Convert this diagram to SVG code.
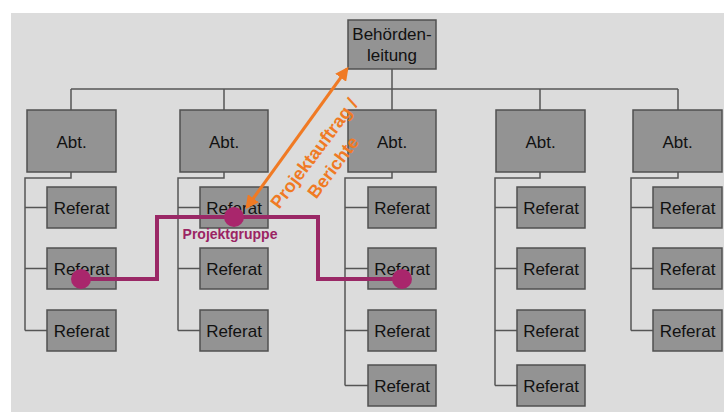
<svg xmlns="http://www.w3.org/2000/svg" width="724" height="412" viewBox="0 0 724 412">
<style>
.box{fill:#939393;stroke:#505050;stroke-width:1.5}
.lbl{font-family:"Liberation Sans",Arial,sans-serif;font-size:17px;fill:#111;text-anchor:middle}
.ln{fill:none;stroke:#555;stroke-width:1.5}
.pg{fill:none;stroke:#9a2866;stroke-width:4}
.dot{fill:#a9266c}
.or{font-family:"Liberation Sans",Arial,sans-serif;font-size:18px;font-weight:bold;fill:#f07a24;text-anchor:middle}
</style>
<defs>
<marker id="ah" viewBox="0 0 10 10" refX="8" refY="5" markerWidth="4.5" markerHeight="4.5" orient="auto-start-reverse">
<path d="M0,0 L10,5 L0,10 z" fill="#f07a24"/>
</marker>
</defs>
<rect x="0" y="0" width="724" height="412" fill="#ffffff"/>
<rect x="11" y="13" width="713" height="399" fill="#dcdcdc"/>

<g id="connectors">
<path class="ln" d="M392,69 V110 M71,89 H678 M71,89 V110 M224,89 V110 M540,89 V110 M678,89 V110"/>
<path class="ln" d="M71,172 V178 H25 V330.5 M25,207.5 H47 M25,268.5 H47 M25,330.5 H47"/>
<path class="ln" d="M224,172 V178 H178 V330.5 M178,207.5 H200 M178,268.5 H200 M178,330.5 H200"/>
<path class="ln" d="M392,172 V178 H345 V385.5 M345,207.5 H368 M345,268.5 H368 M345,330.5 H368 M345,385.5 H368"/>
<path class="ln" d="M540,172 V178 H495 V385.5 M495,207.5 H517 M495,268.5 H517 M495,330.5 H517 M495,385.5 H517"/>
<path class="ln" d="M678,172 V178 H631 V330.5 M631,207.5 H653 M631,268.5 H653 M631,330.5 H653"/>
</g>

<g id="behoerdenleitung"><rect class="box" x="348" y="20" width="88" height="49"/><text class="lbl" x="392" y="40">Behörden-</text><text class="lbl" x="392" y="61">leitung</text></g>

<g id="abt1"><rect class="box" x="27" y="110" width="89" height="62"/><text class="lbl" x="71.5" y="148">Abt.</text></g>
<g id="abt2"><rect class="box" x="180" y="110" width="88" height="62"/><text class="lbl" x="224" y="148">Abt.</text></g>
<g id="abt3"><rect class="box" x="348" y="110" width="88" height="62"/><text class="lbl" x="392" y="148">Abt.</text></g>
<g id="abt4"><rect class="box" x="496" y="110" width="89" height="62"/><text class="lbl" x="540.5" y="148">Abt.</text></g>
<g id="abt5"><rect class="box" x="633" y="110" width="89" height="62"/><text class="lbl" x="677.5" y="148">Abt.</text></g>

<g id="ref1-1"><rect class="box" x="47" y="187" width="69" height="41"/><text class="lbl" x="81.5" y="213.5">Referat</text></g>
<g id="ref1-2"><rect class="box" x="47" y="248" width="69" height="41"/><text class="lbl" x="81.5" y="274.5">Referat</text></g>
<g id="ref1-3"><rect class="box" x="47" y="310" width="69" height="41"/><text class="lbl" x="81.5" y="336.5">Referat</text></g>

<g id="ref2-1"><rect class="box" x="200" y="187" width="68" height="41"/><text class="lbl" x="234" y="213.5">Referat</text></g>
<g id="ref2-2"><rect class="box" x="200" y="248" width="68" height="41"/><text class="lbl" x="234" y="274.5">Referat</text></g>
<g id="ref2-3"><rect class="box" x="200" y="310" width="68" height="41"/><text class="lbl" x="234" y="336.5">Referat</text></g>

<g id="ref3-1"><rect class="box" x="368" y="187" width="68" height="41"/><text class="lbl" x="402" y="213.5">Referat</text></g>
<g id="ref3-2"><rect class="box" x="368" y="248" width="68" height="41"/><text class="lbl" x="402" y="274.5">Referat</text></g>
<g id="ref3-3"><rect class="box" x="368" y="310" width="68" height="41"/><text class="lbl" x="402" y="336.5">Referat</text></g>
<g id="ref3-4"><rect class="box" x="368" y="365" width="68" height="41"/><text class="lbl" x="402" y="391.5">Referat</text></g>

<g id="ref4-1"><rect class="box" x="517" y="187" width="68" height="41"/><text class="lbl" x="551" y="213.5">Referat</text></g>
<g id="ref4-2"><rect class="box" x="517" y="248" width="68" height="41"/><text class="lbl" x="551" y="274.5">Referat</text></g>
<g id="ref4-3"><rect class="box" x="517" y="310" width="68" height="41"/><text class="lbl" x="551" y="336.5">Referat</text></g>
<g id="ref4-4"><rect class="box" x="517" y="365" width="68" height="41"/><text class="lbl" x="551" y="391.5">Referat</text></g>

<g id="ref5-1"><rect class="box" x="653" y="187" width="69" height="41"/><text class="lbl" x="687.5" y="213.5">Referat</text></g>
<g id="ref5-2"><rect class="box" x="653" y="248" width="69" height="41"/><text class="lbl" x="687.5" y="274.5">Referat</text></g>
<g id="ref5-3"><rect class="box" x="653" y="310" width="69" height="41"/><text class="lbl" x="687.5" y="336.5">Referat</text></g>

<g id="projektgruppe">
<path class="pg" d="M81,279 H157 V217 H318 V279 H402"/>
<circle class="dot" cx="81" cy="279" r="10"/>
<circle class="dot" cx="234" cy="217" r="10"/>
<circle class="dot" cx="402" cy="279" r="10"/>
<text x="230" y="239" font-family="Liberation Sans,Arial,sans-serif" font-size="14" font-weight="bold" fill="#9b2463" text-anchor="middle">Projektgruppe</text>
</g>

<g id="projektauftrag">
<line x1="247" y1="207" x2="347" y2="69" stroke="#f07a24" stroke-width="3" marker-start="url(#ah)" marker-end="url(#ah)"/>
<text class="or" transform="translate(319,157) rotate(-53)">Projektauftrag /</text>
<text class="or" transform="translate(338,171) rotate(-53)">Berichte</text>
</g>
</svg>
